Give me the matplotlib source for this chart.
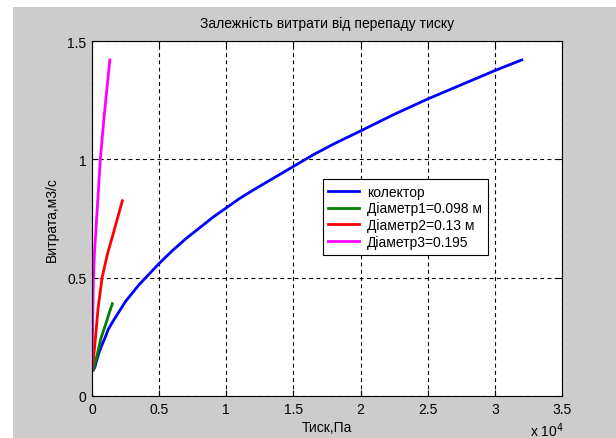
import matplotlib
matplotlib.use('Agg')
import matplotlib.pyplot as plt
from matplotlib.patches import Rectangle

plt.rcParams['font.family'] = ['Liberation Sans', 'DejaVu Sans']

# колектор
p_kol = [100, 200, 300, 500, 700, 1000, 1200, 1500, 2000, 2500, 3000, 3500, 4000,
         4500, 5000, 6000, 7000, 8000, 9000, 10000, 11000, 12000, 13500, 15000,
         16500, 18000, 20000, 22500, 25000, 27500, 30000, 32000]
q_kol = [0.11, 0.12, 0.14, 0.18, 0.21, 0.25, 0.28, 0.31, 0.355, 0.40, 0.435, 0.47, 0.50,
         0.53, 0.56, 0.615, 0.665, 0.71, 0.755, 0.795, 0.835, 0.87, 0.92, 0.97,
         1.02, 1.065, 1.12, 1.19, 1.255, 1.315, 1.375, 1.42]
# Діаметр1
p_d1 = [100, 370, 645, 1000, 1250, 1515]
q_d1 = [0.11, 0.17, 0.24, 0.30, 0.345, 0.39]
# Діаметр2
p_d2 = [0, 100, 250, 450, 750, 1150, 1700, 2260]
q_d2 = [0.11, 0.15, 0.24, 0.37, 0.50, 0.60, 0.71, 0.825]
# Діаметр3
p_d3 = [0, 50, 100, 180, 400, 620, 900, 1330]
q_d3 = [0.11, 0.30, 0.48, 0.60, 0.80, 1.0, 1.18, 1.42]

labels = ['колектор', 'Діаметр1=0.098 м', 'Діаметр2=0.13 м', 'Діаметр3=0.195']
xticks = [0, 0.5, 1, 1.5, 2, 2.5, 3, 3.5]
yticks = [0, 0.5, 1, 1.5]

W, H = 616, 439
fig = plt.figure(figsize=(W / 100, H / 100), dpi=100, facecolor='white')
fig.patches.append(Rectangle((13 / W, 0), 1, 1 - 8 / H, transform=fig.transFigure,
                             facecolor='#cccccc', edgecolor='none', zorder=-1))

ax = fig.add_axes([92 / W, 1 - 397 / H, 470 / W, 355 / H])
ax.plot(p_kol, q_kol, color='#0000ff', lw=2, label=labels[0])
ax.plot(p_d1, q_d1, color='#008000', lw=2, label=labels[1])
ax.plot(p_d2, q_d2, color='#ff0000', lw=2, label=labels[2])
ax.plot(p_d3, q_d3, color='#ff00ff', lw=2, label=labels[3])

ax.set_xlim(0, 35000)
ax.set_ylim(0, 1.5)
ax.set_xticks([t * 1e4 for t in xticks])
ax.set_xticklabels([f'{t:g}' for t in xticks])
ax.set_yticks(yticks)
ax.set_yticklabels([f'{t:g}' for t in yticks])
ax.tick_params(direction='in', top=True, right=True, labelsize=10, length=4,
               colors='black', pad=4)
ax.grid(True, color='black', linestyle=(0, (3.5, 3)), linewidth=0.8)
for s in ax.spines.values():
    s.set_linewidth(0.8)

ax.set_title('Залежність витрати від перепаду тиску', fontsize=10, pad=10)
ax.set_xlabel('Тиск,Па', fontsize=10, labelpad=3)
ax.set_ylabel('Витрата,м3/с', fontsize=10, labelpad=6)
fig.text(530 / W, 1 - 437 / H, 'x 10$^4$', fontsize=10)

leg = ax.legend(loc='upper left', bbox_to_anchor=(0.491, 0.611), borderaxespad=0,
                fontsize=10, fancybox=False, framealpha=1, edgecolor='black',
                handlelength=2.2, labelspacing=0.2, borderpad=0.4, handletextpad=0.6)
leg.get_frame().set_linewidth(0.8)

fig.savefig('out.png', dpi=100)
